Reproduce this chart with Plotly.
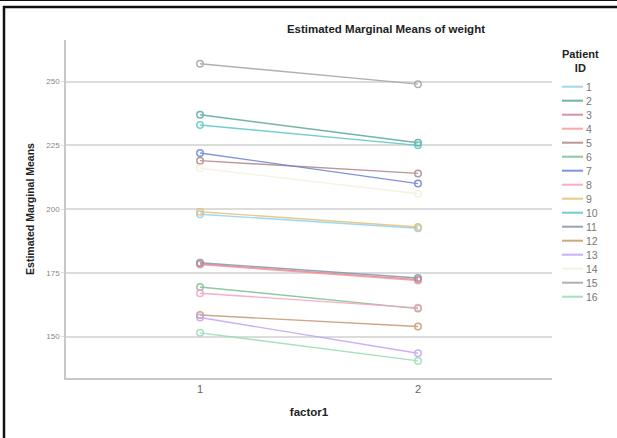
import plotly.graph_objects as go

patients = ["1", "2", "3", "4", "5", "6", "7", "8", "9", "10", "11", "12", "13", "14", "15", "16"]
factor_levels = [1, 2]
weight_f1 = [198, 237, 178.5, 178.3, 219, 169.5, 222, 167, 199, 233, 179, 158.5, 157.5, 216, 257, 151.5]
weight_f2 = [192.5, 226, 172.3, 172, 214, 161, 210, 161.3, 193, 225, 173, 154, 143.5, 206, 249, 140.5]
colors = ["#8fd0f3", "#5aa898", "#cc8396", "#ff9898", "#b08585", "#7cc08e", "#6a82d6", "#f7a0bd",
          "#e2c274", "#5cc6c6", "#8495a8", "#c4996f", "#c3a2f7", "#f3f0dc", "#a3a3a3", "#95ddb3"]

W, H = 617, 438
L, R, T, B = 66, 65, 40, 60
pw, ph = W - L - R, H - T - B

def px(x):
    return (x - L) / pw

def py(y):
    return (H - B - y) / ph

fig = go.Figure()
for i, p in enumerate(patients):
    fig.add_trace(go.Scatter(
        x=factor_levels, y=[weight_f1[i], weight_f2[i]], mode="lines+markers", name=p,
        line=dict(color=colors[i], width=1.4),
        marker=dict(symbol="circle-open", size=6.5, color=colors[i], line=dict(width=1.5)),
        opacity=0.85, showlegend=False))

shapes = []
annotations = []
# manual legend
annotations.append(dict(text="<b>Patient</b><br><b>ID</b>", x=px(580), y=py(61), xref="paper", yref="paper",
                        showarrow=False, font=dict(size=11, color="#222", family="Liberation Sans"),
                        xanchor="center", yanchor="middle", align="center"))
for i, p in enumerate(patients):
    yy = 86.7 + i * 14.0
    shapes.append(dict(type="line", xref="paper", yref="paper", x0=px(562), x1=px(583), y0=py(yy), y1=py(yy),
                       line=dict(color=colors[i], width=2), opacity=0.85))
    annotations.append(dict(text=p, x=px(584), y=py(yy), xref="paper", yref="paper", showarrow=False,
                            xanchor="left", yanchor="middle",
                            font=dict(size=10.5, color="#777", family="Liberation Sans")))
# frame
shapes.append(dict(type="line", xref="paper", yref="paper", x0=px(0), x1=px(617), y0=py(0.5), y1=py(0.5),
                   line=dict(color="#111", width=1)))
shapes.append(dict(type="line", xref="paper", yref="paper", x0=px(3), x1=px(617), y0=py(7), y1=py(7),
                   line=dict(color="#111", width=2.5)))
shapes.append(dict(type="line", xref="paper", yref="paper", x0=px(4), x1=px(4), y0=py(6), y1=py(438),
                   line=dict(color="#111", width=2.5)))

fig.update_layout(
    width=W, height=H, margin=dict(l=L, r=R, t=T, b=B),
    paper_bgcolor="white", plot_bgcolor="white",
    font=dict(family="Liberation Sans, Arial", color="#666"),
    title=dict(text="<b>Estimated Marginal Means of weight</b>", x=px(370), xanchor="center",
               y=1 - 29 / H, yanchor="middle", font=dict(size=11.5, color="#222")),
    xaxis=dict(range=[0.385, 2.615], tickvals=factor_levels, ticktext=["1", "2"], showgrid=False,
               showline=True, linecolor="#c8c8c8", linewidth=1.5, zeroline=False,
               tickfont=dict(size=11, color="#666"),
               title=dict(text="<b>factor1</b>", font=dict(size=11.5, color="#222"), standoff=14)),
    yaxis=dict(range=[133.8, 266.3], tickvals=[150, 175, 200, 225, 250], showgrid=True,
               gridcolor="#dcdcdc", gridwidth=1.5, showline=True, linecolor="#c8c8c8", linewidth=1.5,
               zeroline=False, ticks="outside", ticklen=3, tickcolor="#dcdcdc",
               tickfont=dict(size=8, color="#888"),
               title=dict(text="<b>Estimated Marginal Means</b>",
                          font=dict(size=10.5, color="#222", family="Liberation Sans Narrow, Liberation Sans"),
                          standoff=10)),
    shapes=shapes, annotations=annotations,
)
fig.write_html("out.html")
